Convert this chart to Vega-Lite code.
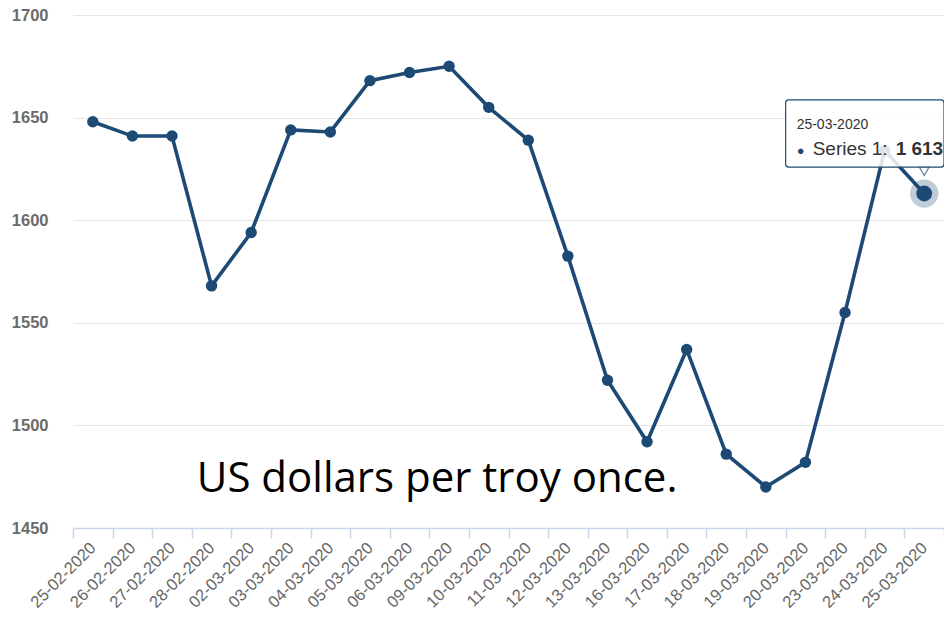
{
  "$schema": "https://vega.github.io/schema/vega-lite/v6.json",
  "autosize": "none",
  "width": 871,
  "height": 513,
  "padding": {"left": 73, "top": 15, "right": 0, "bottom": 90},
  "background": "white",
  "config": {"view": {"stroke": null}},
  "datasets": {
    "gold": [
      {"date": "25-02-2020", "price": 1648},
      {"date": "26-02-2020", "price": 1641},
      {"date": "27-02-2020", "price": 1641},
      {"date": "28-02-2020", "price": 1568},
      {"date": "02-03-2020", "price": 1594},
      {"date": "03-03-2020", "price": 1644},
      {"date": "04-03-2020", "price": 1643},
      {"date": "05-03-2020", "price": 1668},
      {"date": "06-03-2020", "price": 1672},
      {"date": "09-03-2020", "price": 1675},
      {"date": "10-03-2020", "price": 1655},
      {"date": "11-03-2020", "price": 1639},
      {"date": "12-03-2020", "price": 1582.5},
      {"date": "13-03-2020", "price": 1522},
      {"date": "16-03-2020", "price": 1492},
      {"date": "17-03-2020", "price": 1537},
      {"date": "18-03-2020", "price": 1486},
      {"date": "19-03-2020", "price": 1470},
      {"date": "20-03-2020", "price": 1482},
      {"date": "23-03-2020", "price": 1555},
      {"date": "24-03-2020", "price": 1634},
      {"date": "25-03-2020", "price": 1613}
    ],
    "hover": [{"date": "25-03-2020", "price": 1613}],
    "tip": [{"left": "20-03-2020", "right": "25-03-2020", "top": 1658.6, "bottom": 1625.9, "head": 1644.4, "body": 1631.8, "pointer": 1623.8, "header": "25-03-2020", "series": "Series 1:", "value": "1 613"}],
    "note": [{"date": "09-03-2020", "price": 1467.5, "label": "US dollars per troy once."}]
  },
  "layer": [
    {
      "data": {"name": "hover"},
      "mark": {"type": "point", "filled": true, "color": "#1d4a74", "opacity": 0.28, "size": 800},
      "encoding": {
        "x": {"field": "date", "type": "ordinal", "sort": null, "bandPosition": 0.5},
        "y": {"field": "price", "type": "quantitative"}
      }
    },
    {
      "data": {"name": "gold"},
      "mark": {"type": "line", "color": "#1d4a74", "strokeWidth": 3.6, "point": {"filled": true, "size": 130, "color": "#1d4a74"}},
      "encoding": {
        "x": {
          "field": "date", "type": "ordinal", "sort": null, "bandPosition": 0.5,
          "scale": {"type": "band", "paddingInner": 0, "paddingOuter": 0,
            "domain": ["25-02-2020", "26-02-2020", "27-02-2020", "28-02-2020", "02-03-2020", "03-03-2020", "04-03-2020", "05-03-2020", "06-03-2020", "09-03-2020", "10-03-2020", "11-03-2020", "12-03-2020", "13-03-2020", "16-03-2020", "17-03-2020", "18-03-2020", "19-03-2020", "20-03-2020", "23-03-2020", "24-03-2020", "25-03-2020"]},
          "axis": {
            "title": null, "labelAngle": -45, "labelFontSize": 16.5, "labelColor": "#666666",
            "labelFont": "Liberation Sans", "labelPadding": 7,
            "domainColor": "#ccd6eb", "domainWidth": 1.5, "tickColor": "#ccd6eb", "tickWidth": 1.5,
            "tickSize": 10, "tickBand": "extent", "grid": false
          }
        },
        "y": {
          "field": "price", "type": "quantitative",
          "scale": {"domain": [1450, 1700], "nice": false, "zero": false},
          "axis": {
            "title": null, "values": [1450, 1500, 1550, 1600, 1650, 1700], "format": "d",
            "labelFontSize": 16.5, "labelFontWeight": "bold", "labelColor": "#6b6b6b",
            "labelFont": "Liberation Sans", "labelPadding": 25,
            "domain": false, "ticks": false, "gridColor": "#e6e6e6", "gridWidth": 1.2
          }
        }
      }
    },
    {
      "data": {"name": "hover"},
      "mark": {"type": "point", "filled": true, "color": "#1d4a74", "opacity": 1, "size": 250},
      "encoding": {
        "x": {"field": "date", "type": "ordinal", "sort": null, "bandPosition": 0.5},
        "y": {"field": "price", "type": "quantitative"}
      }
    },
    {
      "data": {"name": "tip"},
      "mark": {"type": "rect", "fill": "white", "fillOpacity": 0.85, "stroke": "#1d4a74", "strokeWidth": 1.2, "cornerRadius": 3},
      "encoding": {
        "x": {"field": "left", "type": "ordinal", "sort": null, "bandPosition": 0},
        "x2": {"field": "right", "bandPosition": 1},
        "y": {"field": "top", "type": "quantitative"},
        "y2": {"field": "bottom"}
      }
    },
    {
      "data": {"name": "tip"},
      "mark": {"type": "point", "shape": "triangle-down", "filled": true, "fill": "white", "stroke": "#1d4a74", "strokeWidth": 1.2, "size": 90, "dx": 3},
      "encoding": {
        "x": {"field": "right", "type": "ordinal", "sort": null, "bandPosition": 0.5},
        "y": {"field": "pointer", "type": "quantitative"}
      }
    },
    {
      "data": {"name": "tip"},
      "mark": {"type": "text", "align": "left", "baseline": "alphabetic", "dx": 11, "fontSize": 14, "font": "Liberation Sans", "color": "#333333"},
      "encoding": {
        "x": {"field": "left", "type": "ordinal", "sort": null, "bandPosition": 0},
        "y": {"field": "head", "type": "quantitative"},
        "text": {"field": "header"}
      }
    },
    {
      "data": {"name": "tip"},
      "mark": {"type": "text", "align": "left", "baseline": "alphabetic", "dx": 11, "fontSize": 13, "font": "Liberation Sans", "color": "#1d4a74", "text": "●"},
      "encoding": {
        "x": {"field": "left", "type": "ordinal", "sort": null, "bandPosition": 0},
        "y": {"field": "body", "type": "quantitative"}
      }
    },
    {
      "data": {"name": "tip"},
      "mark": {"type": "text", "align": "left", "baseline": "alphabetic", "dx": 27, "fontSize": 19, "font": "Liberation Sans", "color": "#333333"},
      "encoding": {
        "x": {"field": "left", "type": "ordinal", "sort": null, "bandPosition": 0},
        "y": {"field": "body", "type": "quantitative"},
        "text": {"field": "series"}
      }
    },
    {
      "data": {"name": "tip"},
      "mark": {"type": "text", "align": "left", "baseline": "alphabetic", "dx": 110, "fontSize": 19, "fontWeight": "bold", "font": "Liberation Sans", "color": "#333333"},
      "encoding": {
        "x": {"field": "left", "type": "ordinal", "sort": null, "bandPosition": 0},
        "y": {"field": "body", "type": "quantitative"},
        "text": {"field": "value"}
      }
    },
    {
      "data": {"name": "note"},
      "mark": {"type": "text", "align": "center", "baseline": "alphabetic", "dx": -12, "fontSize": 42, "font": "Open Sans", "color": "#000000"},
      "encoding": {
        "x": {"field": "date", "type": "ordinal", "sort": null, "bandPosition": 0.5},
        "y": {"field": "price", "type": "quantitative"},
        "text": {"field": "label"}
      }
    }
  ]
}
